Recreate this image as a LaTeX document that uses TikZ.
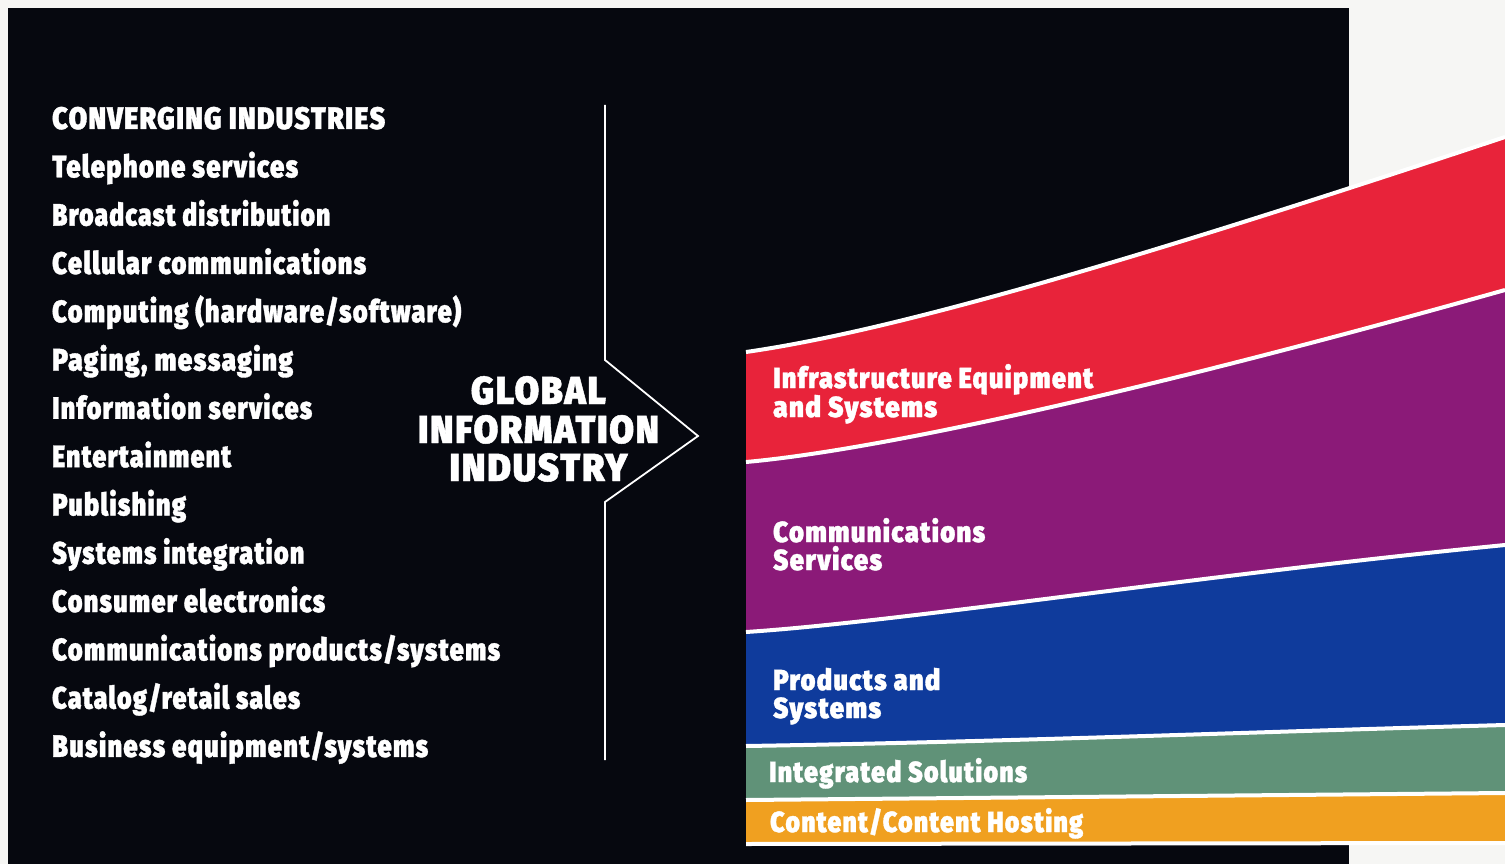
\documentclass[tikz,border=0pt]{standalone}
\usepackage{fontspec}
\usepackage{graphicx}
\newfontfamily\heavy{Fira Sans Black}[LetterSpace=5,FakeBold=1.2]
% set a label at its natural height, stretched or narrowed to a given width
\newcommand\fitw[2]{\resizebox{#1pt}{\height}{#2}}
\definecolor{paper}{HTML}{F6F6F4}
\definecolor{ink}{HTML}{06080F}
\definecolor{bandred}{HTML}{E8233A}
\definecolor{bandpurple}{HTML}{8B1A78}
\definecolor{bandblue}{HTML}{0F3B9C}
\definecolor{bandgreen}{HTML}{609278}
\definecolor{bandorange}{HTML}{F0A020}
\begin{document}
\begin{tikzpicture}[x=1pt,y=-1pt,
  lst/.style={anchor=base west,inner sep=0pt,text=white,font=\heavy\fontsize{31}{31}\selectfont},
  hub/.style={anchor=base,inner sep=0pt,text=white,font=\heavy\fontsize{39}{39}\selectfont},
  bandlab/.style={anchor=base west,inner sep=0pt,text=white,font=\heavy\fontsize{29}{29}\selectfont},
  sep/.style={draw=white,line width=4pt},
  chev/.style={draw=white,line width=1.8pt,line join=miter}]
\useasboundingbox (0,0) rectangle (1505,864);
\fill[paper] (0,0) rectangle (1505,864);
\fill[ink] (8,8) rectangle (1349,864);

% colour bands
\fill[bandred] (746,352) .. controls (900,330) and (1150,255) .. (1505,137)
  -- (1505,290) .. controls (1150,390) and (880,450) .. (746,462) -- cycle;
\fill[bandpurple] (746,462) .. controls (880,450) and (1150,390) .. (1505,290)
  -- (1505,545) .. controls (1200,575) and (900,622) .. (746,632) -- cycle;
\fill[bandblue] (746,632) .. controls (900,622) and (1200,575) .. (1505,545)
  -- (1505,725) .. controls (1250,732) and (1000,742) .. (746,746) -- cycle;
\fill[bandgreen] (746,746) .. controls (1000,742) and (1250,732) .. (1505,725)
  -- (1505,793) -- (746,800) -- cycle;
\fill[bandorange] (746,800) -- (1505,793) -- (1505,842) -- (746,843) -- cycle;

% white separators
\draw[sep] (746,352) .. controls (900,330) and (1150,255) .. (1505,137);
\draw[sep] (746,462) .. controls (880,450) and (1150,390) .. (1505,290);
\draw[sep] (746,632) .. controls (900,622) and (1200,575) .. (1505,545);
\draw[sep] (746,746) .. controls (1000,742) and (1250,732) .. (1505,725);
\draw[sep] (746,800) -- (1505,793);
\draw[sep] (746,844) -- (1505,843);

% converging arrow
\coordinate (cTop) at (605,105);
\coordinate (cIn) at (605,360);
\coordinate (cTip) at (698,436);
\coordinate (cOut) at (605,502);
\coordinate (cBot) at (605,760);
\draw[chev] (cTop) -- (cIn) -- (cTip) -- (cOut) -- (cBot);

% list of industries
\node[lst] (head) at (52,129) {\fitw{333}{CONVERGING INDUSTRIES}};
\node[lst] (i1) at (52,177.3) {\fitw{246}{Telephone services}};
\node[lst] (i2) at (52,225.6) {\fitw{278}{Broadcast distribution}};
\node[lst] (i3) at (52,273.9) {\fitw{314}{Cellular communications}};
\node[lst] (i4) at (52,322.2) {\fitw{409}{Computing (hardware/software)}};
\node[lst] (i5) at (52,370.5) {\fitw{241}{Paging, messaging}};
\node[lst] (i6) at (52,418.8) {\fitw{260}{Information services}};
\node[lst] (i7) at (52,467.1) {\fitw{179}{Entertainment}};
\node[lst] (i8) at (52,515.4) {\fitw{134}{Publishing}};
\node[lst] (i9) at (52,563.7) {\fitw{252}{Systems integration}};
\node[lst] (i10) at (52,612) {\fitw{273}{Consumer electronics}};
\node[lst] (i11) at (52,660.3) {\fitw{448}{Communications products/systems}};
\node[lst] (i12) at (52,708.6) {\fitw{248}{Catalog/retail sales}};
\node[lst] (i13) at (52,756.9) {\fitw{376}{Business equipment/systems}};

% central title
\node[hub] (g1) at (538.5,404) {\fitw{135}{GLOBAL}};
\node[hub] (g2) at (538.5,443) {\fitw{241}{INFORMATION}};
\node[hub] (g3) at (538.5,481) {\fitw{178}{INDUSTRY}};

% band labels
\node[bandlab] (b1a) at (773,388) {\fitw{320}{Infrastructure Equipment}};
\node[bandlab] (b1b) at (773,417) {\fitw{164}{and Systems}};
\node[bandlab] (b2a) at (773,542) {\fitw{212}{Communications}};
\node[bandlab] (b2b) at (773,570) {\fitw{109}{Services}};
\node[bandlab] (b3a) at (773,690) {\fitw{167}{Products and}};
\node[bandlab] (b3b) at (773,718) {\fitw{108}{Systems}};
\node[bandlab] (b4) at (769,782) {\fitw{258}{Integrated Solutions}};
\node[bandlab] (b5) at (770,832) {\fitw{313}{Content/Content Hosting}};
\end{tikzpicture}
\end{document}
